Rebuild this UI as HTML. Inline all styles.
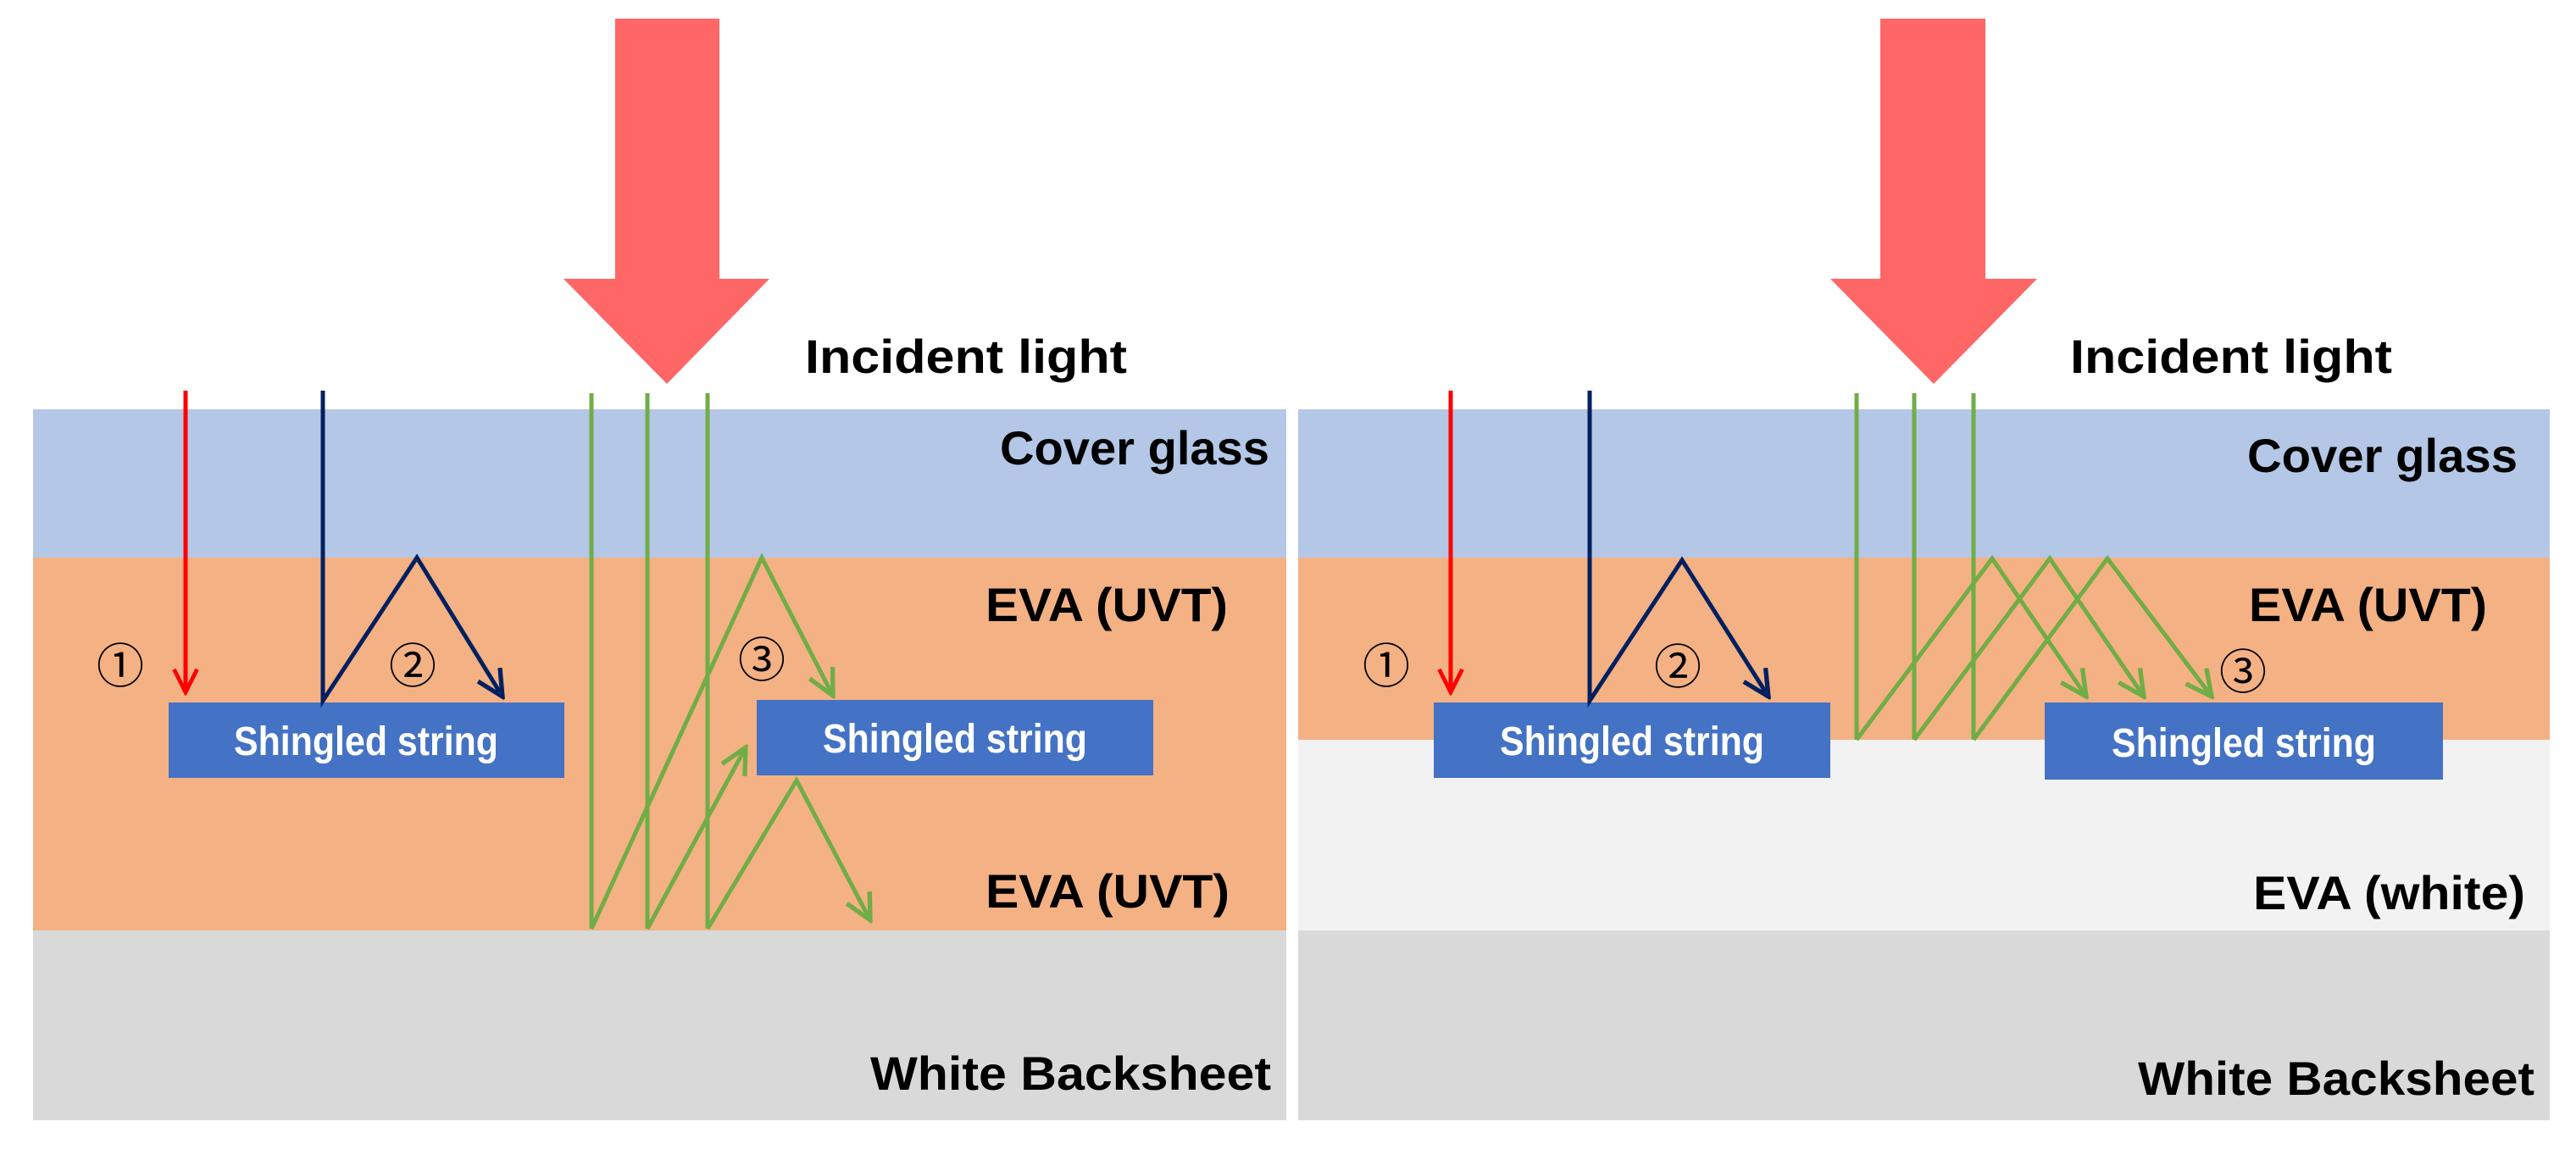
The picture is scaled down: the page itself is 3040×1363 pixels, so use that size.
<!DOCTYPE html>
<html><head><meta charset="utf-8"><style>html,body{margin:0;padding:0;background:#fff}svg{display:block}</style></head>
<body>
<svg width="3040" height="1363" viewBox="0 0 3040 1363" xmlns="http://www.w3.org/2000/svg" font-family="Liberation Sans, sans-serif">
<defs>
<marker id="mr" viewBox="0 0 10 10" refX="9" refY="5" markerWidth="34" markerHeight="34" markerUnits="userSpaceOnUse" orient="auto"><path d="M1,1 L9,5 L1,9" fill="none" stroke="#ff0000" stroke-width="1.4"/></marker>
<marker id="mn" viewBox="0 0 10 10" refX="9" refY="5" markerWidth="38" markerHeight="38" markerUnits="userSpaceOnUse" orient="auto"><path d="M1,1 L9,5 L1,9" fill="none" stroke="#002060" stroke-width="1.4"/></marker>
<marker id="mg" viewBox="0 0 10 10" refX="9" refY="5" markerWidth="38" markerHeight="38" markerUnits="userSpaceOnUse" orient="auto"><path d="M1,1 L9,5 L1,9" fill="none" stroke="#70ad47" stroke-width="1.4"/></marker>
</defs>
<rect width="3040" height="1363" fill="#fff"/>
<rect x="39" y="483" width="1479" height="175" fill="#b4c7e7"/>
<rect x="39" y="658" width="1479" height="440" fill="#f4b183"/>
<rect x="39" y="1098" width="1479" height="224" fill="#d9d9d9"/>
<rect x="1532" y="483" width="1477" height="175" fill="#b4c7e7"/>
<rect x="1532" y="658" width="1477" height="215" fill="#f4b183"/>
<rect x="1532" y="873" width="1477" height="225" fill="#f2f2f2"/>
<rect x="1532" y="1098" width="1477" height="224" fill="#d9d9d9"/>
<polygon points="726,22 849,22 849,329 908,329 787,453 665,329 726,329" fill="#ff6666"/>
<polygon points="2219,22 2343,22 2343,329 2404,329 2282,453 2160,329 2219,329" fill="#ff6666"/>
<g font-weight="bold" fill="#000" font-size="56">
<text x="950" y="440" textLength="380" lengthAdjust="spacingAndGlyphs">Incident light</text>
<text x="2443" y="440" textLength="380" lengthAdjust="spacingAndGlyphs">Incident light</text>
<text x="1180" y="548" textLength="318" lengthAdjust="spacingAndGlyphs">Cover glass</text>
<text x="1163" y="733" textLength="286" lengthAdjust="spacingAndGlyphs">EVA (UVT)</text>
<text x="1163" y="1071" textLength="288" lengthAdjust="spacingAndGlyphs">EVA (UVT)</text>
<text x="1027" y="1286" textLength="473" lengthAdjust="spacingAndGlyphs">White Backsheet</text>
<text x="2652" y="557" textLength="319" lengthAdjust="spacingAndGlyphs">Cover glass</text>
<text x="2654" y="733" textLength="281" lengthAdjust="spacingAndGlyphs">EVA (UVT)</text>
<text x="2659" y="1073" textLength="321" lengthAdjust="spacingAndGlyphs">EVA (white)</text>
<text x="2523" y="1292" textLength="468" lengthAdjust="spacingAndGlyphs">White Backsheet</text>
</g>
<g fill="#4472c4">
<rect x="199" y="829" width="467" height="89"/>
<rect x="893" y="826" width="468" height="89"/>
<rect x="1692" y="829" width="468" height="89"/>
<rect x="2413" y="829" width="470" height="91"/>
</g>
<g fill="#fff" font-weight="bold" font-size="48" text-anchor="middle">
<text x="432" y="891" textLength="312" lengthAdjust="spacingAndGlyphs">Shingled string</text>
<text x="1127" y="888" textLength="312" lengthAdjust="spacingAndGlyphs">Shingled string</text>
<text x="1926" y="891" textLength="312" lengthAdjust="spacingAndGlyphs">Shingled string</text>
<text x="2648" y="893" textLength="312" lengthAdjust="spacingAndGlyphs">Shingled string</text>
</g>
<g font-size="56" fill="#000" text-anchor="middle" font-family="Liberation Sans, Noto Sans CJK JP, sans-serif">
<text x="142" y="806">①</text>
<text x="487" y="806">②</text>
<text x="899" y="799">③</text>
<text x="1636" y="806">①</text>
<text x="1980" y="807">②</text>
<text x="2647" y="813">③</text>
</g>
<g fill="none" stroke-width="5" stroke-linejoin="miter">
<line x1="219" y1="461" x2="219" y2="817" stroke="#ff0000" marker-end="url(#mr)"/>
<polyline points="381,461 381,827 492,658 593,822" stroke="#002060" marker-end="url(#mn)"/>
<line x1="698" y1="464" x2="698" y2="1096" stroke="#70ad47"/>
<line x1="764" y1="464" x2="764" y2="1096" stroke="#70ad47"/>
<line x1="835" y1="464" x2="835" y2="1096" stroke="#70ad47"/>
<polyline points="698,1096 899,658 983,821" stroke="#70ad47" marker-end="url(#mg)"/>
<line x1="764" y1="1096" x2="880" y2="882" stroke="#70ad47" marker-end="url(#mg)"/>
<polyline points="835,1096 940,921 1027,1086" stroke="#70ad47" marker-end="url(#mg)"/>
<line x1="1712" y1="461" x2="1712" y2="817" stroke="#ff0000" marker-end="url(#mr)"/>
<polyline points="1876,461 1876,827 1985,661 2087,822" stroke="#002060" marker-end="url(#mn)"/>
<line x1="2191" y1="464" x2="2191" y2="873" stroke="#70ad47"/>
<line x1="2259" y1="464" x2="2259" y2="873" stroke="#70ad47"/>
<line x1="2329" y1="464" x2="2329" y2="873" stroke="#70ad47"/>
<polyline points="2191,873 2351,659 2462,822" stroke="#70ad47" marker-end="url(#mg)"/>
<polyline points="2259,873 2419,659 2530,822" stroke="#70ad47" marker-end="url(#mg)"/>
<polyline points="2329,873 2487,659 2610,822" stroke="#70ad47" marker-end="url(#mg)"/>
</g>
</svg>
</body></html>
